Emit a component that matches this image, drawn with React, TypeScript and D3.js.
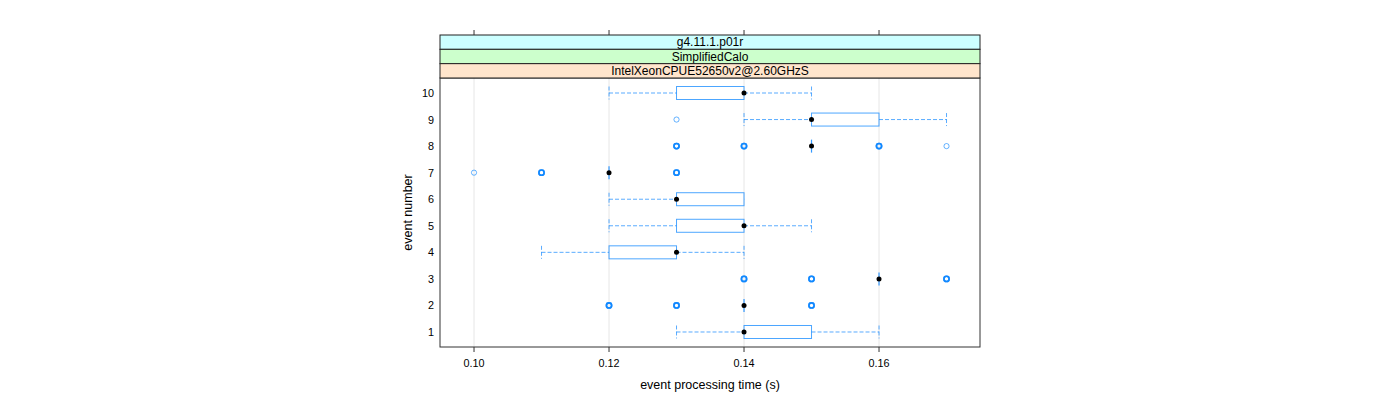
import React from "react";
import * as d3 from "d3";

const events = [1, 2, 3, 4, 5, 6, 7, 8, 9, 10];
const lowerWhisker = [0.13, 0.14, 0.16, 0.11, 0.12, 0.12, 0.12, 0.15, 0.14, 0.12];
const q1 = [0.14, 0.14, 0.16, 0.12, 0.13, 0.13, 0.12, 0.15, 0.15, 0.13];
const medians = [0.14, 0.14, 0.16, 0.13, 0.14, 0.13, 0.12, 0.15, 0.15, 0.14];
const q3 = [0.15, 0.14, 0.16, 0.13, 0.14, 0.14, 0.12, 0.15, 0.16, 0.14];
const upperWhisker = [0.16, 0.14, 0.16, 0.14, 0.15, 0.14, 0.12, 0.15, 0.17, 0.15];
// outliers: [event, value, count]
const outliers: [number, number, number][] = [
  [2, 0.12, 3], [2, 0.13, 3], [2, 0.15, 3],
  [3, 0.14, 3], [3, 0.15, 3], [3, 0.17, 3],
  [7, 0.10, 1], [7, 0.11, 3], [7, 0.13, 3],
  [8, 0.13, 3], [8, 0.14, 3], [8, 0.16, 3], [8, 0.17, 1],
  [9, 0.13, 1],
];
const xTicks = [0.10, 0.12, 0.14, 0.16];
const strips = ["g4.11.1.p01r", "SimplifiedCalo", "IntelXeonCPUE52650v2@2.60GHzS"];
const stripColors = ["#ccffff", "#ccffcc", "#ffe5cc"];

const W = 1400, H = 400;
const L = 440, R = 980, T = 35, STRIP_H = 14.33, PT = 78, PB = 347;
const FONT = "'Liberation Sans', Arial, Helvetica, sans-serif";
const BLUE = "#0080ff";

export default function App() {
  const x = d3.scaleLinear().domain([0.09496, 0.17496]).range([L, R]);
  const y = d3.scaleLinear().domain([0.435, 10.565]).range([PB, PT]);
  const bh = 6.5;
  return (
    <svg width={W} height={H} style={{ position: "absolute", left: 0, top: 0, background: "#fff" }} fontFamily={FONT}>
      {/* grid */}
      {xTicks.map((t) => (
        <line key={"g" + t} x1={x(t)} x2={x(t)} y1={PT} y2={PB} stroke="#e6e6e6" strokeWidth={1} />
      ))}
      {/* whiskers */}
      {events.map((e, i) => {
        const yy = y(e);
        return (
          <g key={"w" + e} stroke={BLUE} strokeOpacity={0.65} fill="none">
            <line x1={x(lowerWhisker[i])} x2={x(q1[i])} y1={yy} y2={yy} strokeDasharray="4,2" />
            <line x1={x(q3[i])} x2={x(upperWhisker[i])} y1={yy} y2={yy} strokeDasharray="4,2" />
            {lowerWhisker[i] < q1[i] && (
              <line x1={x(lowerWhisker[i])} x2={x(lowerWhisker[i])} y1={yy - bh} y2={yy + bh} strokeDasharray="4,2" />
            )}
            {upperWhisker[i] > q3[i] && (
              <line x1={x(upperWhisker[i])} x2={x(upperWhisker[i])} y1={yy - bh} y2={yy + bh} strokeDasharray="4,2" />
            )}
          </g>
        );
      })}
      {/* boxes */}
      {events.map((e, i) =>
        q3[i] > q1[i] ? (
          <rect key={"b" + e} x={x(q1[i])} y={y(e) - bh} width={x(q3[i]) - x(q1[i])} height={bh * 2}
            fill="none" stroke={BLUE} strokeOpacity={0.7} strokeWidth={1} />
        ) : (
          <line key={"b" + e} x1={x(q1[i])} x2={x(q1[i])} y1={y(e) - bh} y2={y(e) + bh}
            stroke={BLUE} strokeOpacity={0.8} strokeWidth={1.2} />
        )
      )}
      {/* outliers */}
      {outliers.map(([e, v, c], k) =>
        d3.range(c).map((j) => (
          <circle key={"o" + k + "-" + j} cx={x(v)} cy={y(e)} r={2.6} fill="none" stroke={BLUE}
            strokeOpacity={0.6} strokeWidth={c > 1 ? 1.6 : 1} />
        ))
      )}
      {/* medians */}
      {events.map((e, i) => (
        <circle key={"m" + e} cx={x(medians[i])} cy={y(e)} r={2.5} fill="#000" />
      ))}
      {/* panel border */}
      <rect x={L} y={PT} width={R - L} height={PB - PT} fill="none" stroke="#333" strokeWidth={1} />
      {/* strips */}
      {strips.map((s, i) => (
        <g key={"s" + i}>
          <rect x={L} y={T + i * STRIP_H} width={R - L} height={STRIP_H} fill={stripColors[i]} stroke="#222" strokeWidth={1} />
          <text x={(L + R) / 2} y={T + i * STRIP_H + STRIP_H / 2 + 4.2} textAnchor="middle" fontSize={12} fill="#000">{s}</text>
        </g>
      ))}
      {/* ticks */}
      {xTicks.map((t) => (
        <g key={"t" + t}>
          <line x1={x(t)} x2={x(t)} y1={T} y2={T - 5} stroke="#333" />
          <line x1={x(t)} x2={x(t)} y1={PB} y2={PB + 5} stroke="#333" />
          <text x={x(t)} y={367} textAnchor="middle" fontSize={10.8} fill="#000">{t.toFixed(2)}</text>
        </g>
      ))}
      {events.map((e) => (
        <text key={"yl" + e} x={434} y={y(e) + 4} textAnchor="end" fontSize={10.8} fill="#000">{e}</text>
      ))}
      <text x={(L + R) / 2} y={389} textAnchor="middle" fontSize={12.5} fill="#000">event processing time (s)</text>
      <text transform={`translate(412,${(PT + PB) / 2}) rotate(-90)`} textAnchor="middle" fontSize={12.5} fill="#000">event number</text>
    </svg>
  );
}
